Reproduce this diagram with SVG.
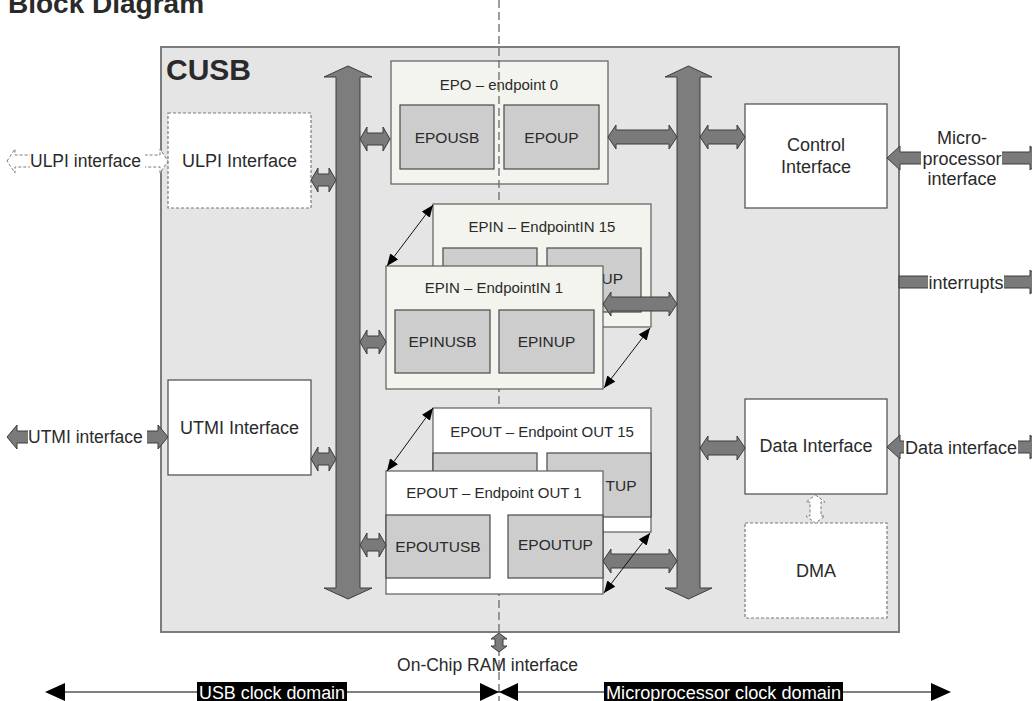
<svg xmlns="http://www.w3.org/2000/svg" width="1032" height="701" viewBox="0 0 1032 701">
  <defs>
    <style>
      .t { font-family: "Liberation Sans", Arial, sans-serif; fill: #2a2a2a; }
      .lbl { font-size: 18px; text-anchor: middle; }
      .ttl { font-size: 15px; text-anchor: middle; }
      .sub { font-size: 15.5px; text-anchor: middle; }
      .end { font-size: 15.5px; text-anchor: end; }
      .ext { font-size: 17.5px; }
      .cusb { fill: #e5e5e5; stroke: #7c7c7c; stroke-width: 2; }
      .box { fill: #ffffff; stroke: #4a4a4a; stroke-width: 1.2; }
      .dbox { fill: #ffffff; stroke: #7a7a7a; stroke-width: 1.2; stroke-dasharray: 3 2; }
      .ep { fill: #f3f4ee; stroke: #5e5e5e; stroke-width: 1.2; }
      .epo { fill: #ffffff; stroke: #5e5e5e; stroke-width: 1.2; }
      .in { fill: #cdcdcd; stroke: #4a4a4a; stroke-width: 1.2; }
      .bus { fill: #7d7d7d; stroke: #3c3c3c; stroke-width: 1; }
      .arr { fill: #7a7a7a; stroke: #3c3c3c; stroke-width: 1; }
      .harr { fill: #ffffff; stroke: #7a7a7a; stroke-width: 1; stroke-dasharray: 3 2; }
      .thin { stroke: #111; stroke-width: 1; fill: none; marker-start: url(#tri); marker-end: url(#tri); }
      .split { stroke: #6a6a6a; stroke-width: 1.3; stroke-dasharray: 8 4; fill: none; }
    </style>
    <marker id="tri" viewBox="0 0 12 10" refX="12" refY="5" markerWidth="12" markerHeight="10" markerUnits="userSpaceOnUse" orient="auto-start-reverse">
      <path d="M0,0 L12,5 L0,10 Z" fill="#000"/>
    </marker>
  </defs>

  <rect width="1032" height="701" fill="#ffffff"/>

  <!-- page heading -->
  <text class="t" x="8" y="13" font-size="28" font-weight="bold" fill="#000">Block Diagram</text>

  <!-- CUSB core outline -->
  <g id="cusb">
    <rect class="cusb" x="161" y="47" width="738" height="585"/>
    <text class="t" x="166" y="80" font-size="30" font-weight="bold" fill="#000">CUSB</text>
  </g>

  <!-- endpoint 0 -->
  <g id="epo">
    <rect class="ep" x="391" y="61" width="217" height="123"/>
    <text class="t ttl" x="499" y="90">EPO – endpoint 0</text>
    <rect class="in" x="400" y="105" width="94" height="64"/>
    <text class="t sub" x="447" y="142.5">EPOUSB</text>
    <rect class="in" x="504" y="105" width="95" height="64"/>
    <text class="t sub" x="551.5" y="142.5">EPOUP</text>
  </g>

  <!-- clock domain split line -->
  <line class="split" x1="499" y1="0" x2="499" y2="701"/>

  <!-- IN endpoints (15 sits behind 1) -->
  <g id="epin15">
    <rect class="ep" x="433" y="204" width="218" height="123"/>
    <text class="t ttl" x="542" y="232">EPIN – EndpointIN 15</text>
    <rect class="in" x="443" y="248" width="94" height="64"/>
    <rect class="in" x="547" y="248" width="94" height="64"/>
    <text class="t end" x="623" y="283.5">UP</text>
  </g>
  <g id="epin1">
    <rect class="ep" x="386" y="266" width="217" height="123"/>
    <text class="t ttl" x="494" y="293">EPIN – EndpointIN 1</text>
    <rect class="in" x="395" y="310" width="95" height="63"/>
    <text class="t sub" x="442.5" y="346.5">EPINUSB</text>
    <rect class="in" x="499" y="310" width="95" height="63"/>
    <text class="t sub" x="546.5" y="346.5">EPINUP</text>
  </g>

  <!-- OUT endpoints (15 sits behind 1) -->
  <g id="epout15">
    <rect class="epo" x="433" y="408" width="218" height="124"/>
    <text class="t ttl" x="542" y="437">EPOUT – Endpoint OUT 15</text>
    <rect class="in" x="433" y="453" width="104" height="64"/>
    <rect class="in" x="547" y="453" width="104" height="64"/>
    <text class="t end" x="636.5" y="490.5">TUP</text>
  </g>
  <g id="epout1">
    <rect class="epo" x="386" y="471" width="217" height="123"/>
    <text class="t ttl" x="494" y="498">EPOUT – Endpoint OUT 1</text>
    <rect class="in" x="386" y="515" width="104" height="63"/>
    <text class="t sub" x="438" y="551.5">EPOUTUSB</text>
    <rect class="in" x="508" y="515" width="95" height="63"/>
    <text class="t sub" x="555.5" y="549.5">EPOUTUP</text>
  </g>

  <!-- interface blocks -->
  <g id="ulpi">
    <rect class="dbox" x="168" y="113" width="143" height="95"/>
    <text class="t lbl" x="239.5" y="166.5">ULPI Interface</text>
  </g>
  <g id="utmi">
    <rect class="box" x="168" y="380" width="143" height="95"/>
    <text class="t lbl" x="239.5" y="433.5">UTMI Interface</text>
  </g>
  <g id="control">
    <rect class="box" x="745" y="104" width="142" height="104"/>
    <text class="t lbl" x="816" y="151">Control</text>
    <text class="t lbl" x="816" y="173">Interface</text>
  </g>
  <g id="data">
    <rect class="box" x="745" y="399" width="142" height="95"/>
    <text class="t lbl" x="816" y="451.5">Data Interface</text>
  </g>
  <g id="dma">
    <rect class="dbox" x="745" y="523" width="142" height="95"/>
    <text class="t lbl" x="816" y="576.5">DMA</text>
  </g>

  <!-- buses and links -->
  <g id="connectors">
    <!-- USB-side bus -->
    <path class="bus" d="M348,66 L372,77 L360,77 L360,588 L372,588 L348,599 L324,588 L336,588 L336,77 L324,77 Z"/>
    <!-- processor-side bus -->
    <path class="bus" d="M688.5,66 L712,77 L700,77 L700,588 L712,588 L688.5,599 L665,588 L677,588 L677,77 L665,77 Z"/>

    <!-- bus links, USB side -->
    <path class="arr" d="M311,180 L318,168 L318,174 L329,174 L329,168 L336,180 L329,192 L329,186 L318,186 L318,192 Z"/>
    <path class="arr" d="M311,459 L318,447 L318,453 L329,453 L329,447 L336,459 L329,471 L329,465 L318,465 L318,471 Z"/>
    <path class="arr" d="M360,139 L367,127 L367,133 L383,133 L383,127 L390,139 L383,151 L383,145 L367,145 L367,151 Z"/>
    <path class="arr" d="M360,342 L367,330 L367,336 L379,336 L379,330 L386,342 L379,354 L379,348 L367,348 L367,354 Z"/>
    <path class="arr" d="M360,545 L367,533 L367,539 L379,539 L379,533 L386,545 L379,557 L379,551 L367,551 L367,557 Z"/>

    <!-- bus links, processor side -->
    <path class="arr" d="M608,137 L616,125 L616,130 L669,130 L669,125 L677,137 L669,149 L669,144 L616,144 L616,149 Z"/>
    <path class="arr" d="M603,304 L611,292 L611,297 L669,297 L669,292 L677,304 L669,316 L669,311 L611,311 L611,316 Z"/>
    <path class="arr" d="M603,561 L611,549 L611,554 L669,554 L669,549 L677,561 L669,573 L669,568 L611,568 L611,573 Z"/>
    <path class="arr" d="M700,137 L708,125 L708,130 L737,130 L737,125 L745,137 L737,149 L737,144 L708,144 L708,149 Z"/>
    <path class="arr" d="M700,448 L708,436 L708,441 L737,441 L737,436 L745,448 L737,460 L737,455 L708,455 L708,460 Z"/>

    <!-- Data Interface to DMA -->
    <path class="harr" d="M815.5,495 L825,502 L821,502 L821,516 L825,516 L815.5,523 L806,516 L810,516 L810,502 L806,502 Z"/>

    <!-- endpoint chaining -->
    <line class="thin" x1="387" y1="266" x2="433" y2="205"/>
    <line class="thin" x1="604" y1="388" x2="650" y2="328"/>
    <line class="thin" x1="387" y1="471" x2="433" y2="408"/>
    <line class="thin" x1="604" y1="593" x2="650" y2="533"/>

    <!-- external ULPI -->
    <path class="harr" d="M7,161 L15,149 L15,155 L160,155 L160,149 L168,161 L160,173 L160,167 L15,167 L15,173 Z"/>
    <rect x="30" y="150" width="115" height="22" fill="#ffffff"/>
    <text class="t ext" x="30" y="167">ULPI interface</text>

    <!-- external UTMI -->
    <path class="arr" d="M7,437 L17,425 L17,431 L158,431 L158,425 L168,437 L158,449 L158,443 L17,443 L17,449 Z"/>
    <rect x="28" y="426" width="119" height="22" fill="#ffffff"/>
    <text class="t ext" x="28" y="443">UTMI interface</text>

    <!-- external microprocessor interface -->
    <path class="arr" d="M887,158 L900,146 L900,152 L1030,152 L1030,146 L1045,158 L1030,170 L1030,164 L900,164 L900,170 Z"/>
    <rect x="921" y="146" width="81" height="24" fill="#ffffff"/>
    <text class="t lbl" x="962" y="143.5">Micro-</text>
    <text class="t lbl" x="962" y="164.5">processor</text>
    <text class="t lbl" x="962" y="184.5">interface</text>

    <!-- external interrupts -->
    <path class="arr" d="M899,276 L1030,276 L1030,270 L1045,282 L1030,294 L1030,288 L899,288 Z"/>
    <rect x="928" y="271" width="76" height="22" fill="#ffffff"/>
    <text class="t lbl" x="966" y="288.5">interrupts</text>

    <!-- external data interface -->
    <path class="arr" d="M887,447 L900,435 L900,441 L1030,441 L1030,435 L1045,447 L1030,459 L1030,453 L900,453 L900,459 Z"/>
    <rect x="904" y="436" width="114" height="22" fill="#ffffff"/>
    <text class="t lbl" x="961" y="453.5">Data interface</text>

    <!-- on-chip RAM link -->
    <path class="arr" d="M499,633 L507,639 L503,639 L503,646 L507,646 L499,652 L491,646 L495,646 L495,639 L491,639 Z"/>
  </g>

  <text class="t" x="487.5" y="671" font-size="17.5" text-anchor="middle">On-Chip RAM interface</text>

  <!-- clock domain ranges -->
  <g id="domains">
    <line x1="60" y1="692" x2="936" y2="692" stroke="#000" stroke-width="1"/>
    <path d="M45,692 L65,683 L65,701 Z" fill="#000"/>
    <path d="M951,692 L931,683 L931,701 Z" fill="#000"/>
    <path d="M480,683 L499,692 L480,701 Z" fill="#000"/>
    <path d="M518,683 L499,692 L518,701 Z" fill="#000"/>
    <rect x="197" y="682" width="150" height="19" fill="#000"/>
    <text x="199" y="699" font-family="'Liberation Sans', Arial, sans-serif" font-size="18" fill="#fff" textLength="146" lengthAdjust="spacingAndGlyphs">USB clock domain</text>
    <rect x="604" y="682" width="239" height="19" fill="#000"/>
    <text x="606" y="699" font-family="'Liberation Sans', Arial, sans-serif" font-size="18" fill="#fff" textLength="235" lengthAdjust="spacingAndGlyphs">Microprocessor clock domain</text>
  </g>
</svg>
